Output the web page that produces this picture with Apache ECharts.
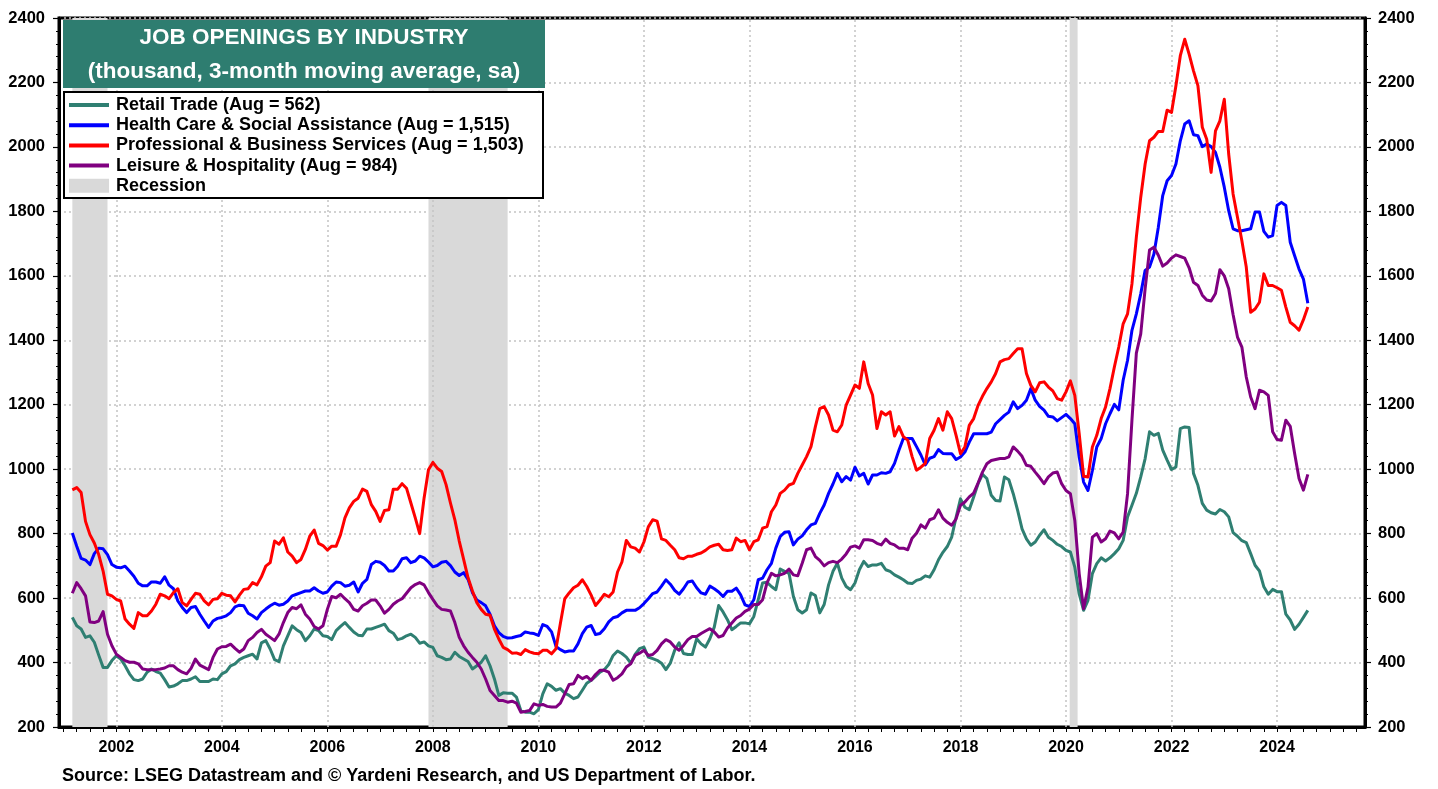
<!DOCTYPE html>
<html>
<head>
<meta charset="utf-8">
<script src="https://cdn.jsdelivr.net/npm/echarts@6/dist/echarts.min.js"></script>
<style>
html,body{margin:0;padding:0;background:#fff;}
#chart{width:1438px;height:789px;}
</style>
</head>
<body>
<div id="chart"></div>
<script>
// ---- DATA (monthly, 3-month moving average, thousands), first month = Mar 2001 ----
const startYear = 2001, startMonth = 3;

const retailTrade = [
540,514,504,478,483,463,423,385,385,406,
421,411,390,365,347,344,349,370,380,372,
367,347,324,327,334,344,344,349,356,341,
341,341,349,347,365,372,390,396,409,416,
421,426,411,461,468,442,409,403,452,483,
514,502,493,468,483,504,499,483,481,471,
499,512,524,509,495,485,483,504,504,509,
514,519,499,491,471,475,483,488,478,460,
464,452,447,421,416,409,411,432,419,411,
403,380,390,401,421,390,349,298,306,305,
305,293,251,246,246,241,254,303,334,326,
314,319,305,298,288,293,314,336,345,357,
370,378,394,422,436,428,417,398,425,443,
448,417,412,407,398,378,398,438,461,428,
425,425,474,458,448,474,510,577,557,533,
502,512,523,523,520,543,595,647,649,636,
626,690,683,677,605,564,554,564,616,608,
554,580,641,683,708,662,636,626,647,688,
714,698,703,703,708,688,683,672,665,657,
647,645,655,659,669,665,688,719,742,760,
789,851,908,882,874,914,955,984,971,919,
903,901,976,967,924,872,815,784,764,774,
795,812,789,779,767,760,748,743,696,613,
562,593,676,707,725,715,725,738,753,779,
852,888,925,976,1033,1116,1105,1111,1059,1028,
999,1007,1126,1131,1129,987,950,894,873,865,
861,875,868,852,803,792,778,772,738,702,
684,635,612,627,620,620,550,532,503,519,
540,562];

const healthCare = [
802,761,723,718,704,738,755,753,735,704,
696,694,699,684,668,646,638,638,650,650,
646,666,640,629,591,571,555,571,574,550,
529,509,529,537,540,545,555,573,578,576,
553,545,535,555,566,576,584,578,581,591,
607,612,617,622,622,632,622,615,619,637,
650,648,637,640,650,619,646,658,704,714,
711,701,684,684,699,722,725,710,715,730,
725,712,697,701,711,714,701,681,670,679,
658,617,594,586,576,550,514,493,481,476,
477,481,484,495,492,490,484,518,512,495,
450,440,433,436,436,458,490,510,515,487,
490,505,526,539,543,554,562,562,562,570,
583,598,614,619,637,657,643,624,612,629,
650,653,632,616,612,637,629,619,605,621,
621,631,610,579,574,595,657,662,688,708,
755,791,804,806,765,783,793,812,827,832,
863,889,925,954,987,961,977,966,1006,979,
987,954,982,982,989,987,992,1018,1059,1095,
1095,1095,1070,1044,1013,1034,1039,1061,1049,1048,
1048,1030,1038,1053,1084,1110,1110,1110,1110,1115,
1141,1154,1167,1177,1209,1188,1198,1214,1250,1214,
1195,1183,1164,1162,1150,1160,1170,1157,1141,1038,
960,934,996,1069,1095,1141,1172,1201,1184,1276,
1338,1431,1482,1544,1617,1627,1668,1751,1849,1895,
1911,1947,2019,2071,2081,2038,2035,2001,2009,2001,
1983,1937,1875,1802,1746,1740,1740,1743,1746,1798,
1798,1738,1720,1725,1818,1828,1818,1704,1662,1621,
1590,1515];

const professionalBusiness = [
936,943,928,838,797,771,735,684,612,607,
596,591,535,519,506,555,545,545,560,581,
612,607,598,617,629,586,576,596,615,612,
591,579,596,598,615,609,607,588,609,627,
629,648,641,666,699,710,777,767,787,743,
730,710,720,751,792,811,770,763,749,761,
761,797,849,880,900,910,938,931,890,869,
838,872,874,938,938,955,941,895,849,800,
910,998,1021,1003,993,952,895,843,777,720,
663,622,586,565,550,547,504,473,447,440,
429,430,425,440,433,429,427,438,438,427,
443,521,598,616,632,640,657,636,609,577,
593,612,604,619,681,712,779,759,755,743,
774,821,843,839,784,779,764,750,725,722,
730,730,736,740,748,759,764,767,750,748,
750,786,775,779,750,775,781,817,822,868,
889,925,935,951,956,987,1013,1039,1070,1132,
1188,1194,1168,1121,1116,1137,1199,1230,1261,1251,
1333,1266,1230,1126,1178,1168,1178,1103,1132,1101,
1090,1039,997,1006,1018,1095,1121,1157,1121,1178,
1157,1105,1048,1069,1136,1157,1198,1226,1250,1271,
1297,1333,1340,1343,1359,1374,1374,1297,1260,1240,
1268,1271,1255,1243,1219,1214,1240,1274,1229,1110,
978,976,1069,1105,1157,1193,1250,1317,1379,1451,
1482,1575,1720,1844,1947,2019,2030,2048,2048,2114,
2107,2190,2283,2334,2288,2236,2190,2061,2024,1921,
2050,2081,2148,1978,1854,1782,1709,1627,1487,1497,
1518,1606,1570,1570,1563,1555,1503,1456,1445,1431,
1464,1503];

const leisureHospitality = [
615,648,629,607,526,524,529,558,488,452,
426,416,406,401,401,396,380,378,378,378,
380,383,390,390,378,370,365,382,411,392,
385,378,416,442,449,450,457,444,432,442,
468,478,493,503,488,478,468,488,524,555,
571,567,579,550,535,512,504,514,565,605,
601,612,598,586,565,560,576,584,594,594,
576,553,565,581,591,598,615,632,642,648,
641,617,596,576,565,563,560,524,478,452,
432,416,401,380,349,313,298,282,282,277,
280,274,246,248,251,272,267,270,264,262,
262,274,303,332,334,360,350,357,345,363,
376,376,370,345,353,365,386,396,422,429,
438,422,425,438,458,471,464,448,438,453,
471,481,481,490,498,505,495,479,484,507,
523,538,546,559,566,580,580,595,647,677,
669,672,677,690,672,669,708,750,755,729,
717,700,710,714,710,721,737,758,762,755,
781,781,779,770,765,783,770,765,755,755,
750,786,801,827,817,843,848,874,848,835,
826,846,888,898,914,926,957,991,1017,1027,
1030,1033,1033,1038,1069,1056,1040,1012,1009,991,
974,955,976,988,991,955,934,924,841,676,
567,634,789,800,774,784,808,802,784,805,
924,1152,1360,1420,1560,1680,1689,1664,1630,1640,
1655,1665,1660,1655,1625,1580,1570,1540,1525,1522,
1545,1619,1600,1560,1480,1410,1379,1286,1224,1188,
1245,1240,1229,1116,1092,1090,1152,1133,1049,971,
935,984];

const seriesNames = [
  'Retail Trade (Aug = 562)',
  'Health Care & Social Assistance (Aug = 1,515)',
  'Professional & Business Services (Aug = 1,503)',
  'Leisure & Hospitality (Aug = 984)'
];
const recessionLabel = 'Recession';
// recession periods (decimal years)
const recessions = [[2001.167, 2001.833], [2007.917, 2009.417], [2020.07, 2020.22]];
const yearLabels = [2002,2004,2006,2008,2010,2012,2014,2016,2018,2020,2022,2024];
const titleLines = ['JOB OPENINGS BY INDUSTRY', '(thousand, 3-month moving average, sa)'];
const sourceText = 'Source: LSEG Datastream and \u00A9 Yardeni Research, and US Department of Labor.';

// ---- BUILD ----
const colors = ['#2F7F72', '#0000FF', '#FF0000', '#800080'];
const allValues = [retailTrade, healthCare, professionalBusiness, leisureHospitality];
const toPairs = vals => vals.map((v, i) => [startYear + (startMonth - 1 + i) / 12, v]);

const quarterTicks = [];
for (let y = 2001; y <= 2025.5; y += 0.25) quarterTicks.push(y);

const FONT = "'Liberation Sans', Arial, Helvetica, sans-serif";
const xMin = 2000.914, xMax = 2025.667;

const chart = echarts.init(document.getElementById('chart'), null, {renderer: 'canvas'});

const lineSeries = allValues.map((vals, k) => ({
  name: seriesNames[k],
  type: 'line',
  data: toPairs(vals),
  showSymbol: false,
  symbol: 'none',
  smooth: false,
  lineStyle: {color: colors[k], width: 3, join: 'round'},
  itemStyle: {color: colors[k]},
  z: 5 + k,
  animation: false
}));

const legendTop = 105, legendStep = 20.2;
const legendFont = "bold 18px " + FONT;
const legendGraphics = [];
seriesNames.forEach((nm, k) => {
  legendGraphics.push({
    type: 'line', shape: {x1: 69, y1: legendTop + k * legendStep, x2: 109, y2: legendTop + k * legendStep},
    style: {stroke: colors[k], lineWidth: 4}, z: 100
  });
  legendGraphics.push({
    type: 'text', x: 116, y: legendTop + k * legendStep,
    style: {text: nm, font: legendFont, fill: '#000', textVerticalAlign: 'middle', textBaseline: 'middle'}, z: 100
  });
});
legendGraphics.push({
  type: 'rect', shape: {x: 69, y: legendTop + 4 * legendStep - 7, width: 40, height: 14},
  style: {fill: '#D9D9D9'}, z: 100
});
legendGraphics.push({
  type: 'text', x: 116, y: legendTop + 4 * legendStep,
  style: {text: recessionLabel, font: legendFont, fill: '#000', textVerticalAlign: 'middle', textBaseline: 'middle'}, z: 100
});

const plainNum = v => String(Math.round(v));

const option = {
  animation: false,
  backgroundColor: '#fff',
  textStyle: {fontFamily: FONT},
  grid: {left: 59, right: 73, top: 18, bottom: 62, show: true, borderColor: '#000', borderWidth: 3, backgroundColor: 'transparent'},
  xAxis: {
    type: 'value', min: xMin, max: xMax,
    axisLine: {show: true, lineStyle: {color: '#000', width: 3}},
    axisTick: {show: true, customValues: quarterTicks, length: 5, lineStyle: {color: '#000', width: 1}},
    axisLabel: {customValues: yearLabels, fontSize: 16, fontWeight: 'bold', color: '#000', margin: 13, fontFamily: FONT,
                formatter: plainNum},
    splitLine: {show: false}
  },
  yAxis: [
    {
      type: 'value', min: 200, max: 2400, interval: 200, position: 'left',
      axisLine: {show: true, lineStyle: {color: '#000', width: 3}},
      axisTick: {show: true, length: 6, lineStyle: {color: '#000', width: 1.2}},
      minorTick: {show: true, splitNumber: 5, length: 3, lineStyle: {color: '#000', width: 1}},
      axisLabel: {fontSize: 16.5, fontWeight: 'bold', color: '#000', margin: 14, fontFamily: FONT, formatter: plainNum},
      splitLine: {show: true, lineStyle: {color: '#C4C4C4', width: 1.5, type: [2, 3]}}
    },
    {
      type: 'value', min: 200, max: 2400, interval: 200, position: 'right',
      axisLine: {show: true, lineStyle: {color: '#000', width: 3}},
      axisTick: {show: true, length: 6, lineStyle: {color: '#000', width: 1.2}},
      minorTick: {show: true, splitNumber: 5, length: 3, lineStyle: {color: '#000', width: 1}},
      axisLabel: {fontSize: 16.5, fontWeight: 'bold', color: '#000', margin: 13, fontFamily: FONT, formatter: plainNum},
      splitLine: {show: false}
    }
  ],
  series: [
    {
      name: 'helper', type: 'line', data: [], silent: true, z: 1,
      markArea: {
        silent: true,
        itemStyle: {color: '#D9D9D9'},
        data: recessions.map(r => [{xAxis: r[0]}, {xAxis: r[1]}])
      },
      markLine: {
        silent: true, symbol: ['none', 'none'], label: {show: false},
        lineStyle: {color: '#C4C4C4', width: 1.5, type: [2, 3]},
        data: yearLabels.map(y => ({xAxis: y}))
      }
    }
  ].concat(lineSeries),
  graphic: [
    {type: 'rect', shape: {x: 63, y: 20, width: 482, height: 68}, style: {fill: '#2E7D70'}, z: 99},
    {type: 'text', x: 304, y: 38, style: {text: titleLines[0], font: "bold 22.5px " + FONT, fill: '#fff', textAlign: 'center', textVerticalAlign: 'middle', textBaseline: 'middle'}, z: 100},
    {type: 'text', x: 304, y: 72, style: {text: titleLines[1], font: "bold 22.5px " + FONT, fill: '#fff', textAlign: 'center', textVerticalAlign: 'middle', textBaseline: 'middle'}, z: 100},
    {type: 'rect', shape: {x: 64, y: 92, width: 479, height: 106}, style: {fill: '#fff', stroke: '#000', lineWidth: 2}, z: 99},
    {type: 'text', x: 62, y: 776, style: {text: sourceText, font: "bold 18px " + FONT, fill: '#000', textVerticalAlign: 'middle', textBaseline: 'middle'}, z: 100}
  ].concat(legendGraphics)
};

chart.setOption(option);
</script>
</body>
</html>
